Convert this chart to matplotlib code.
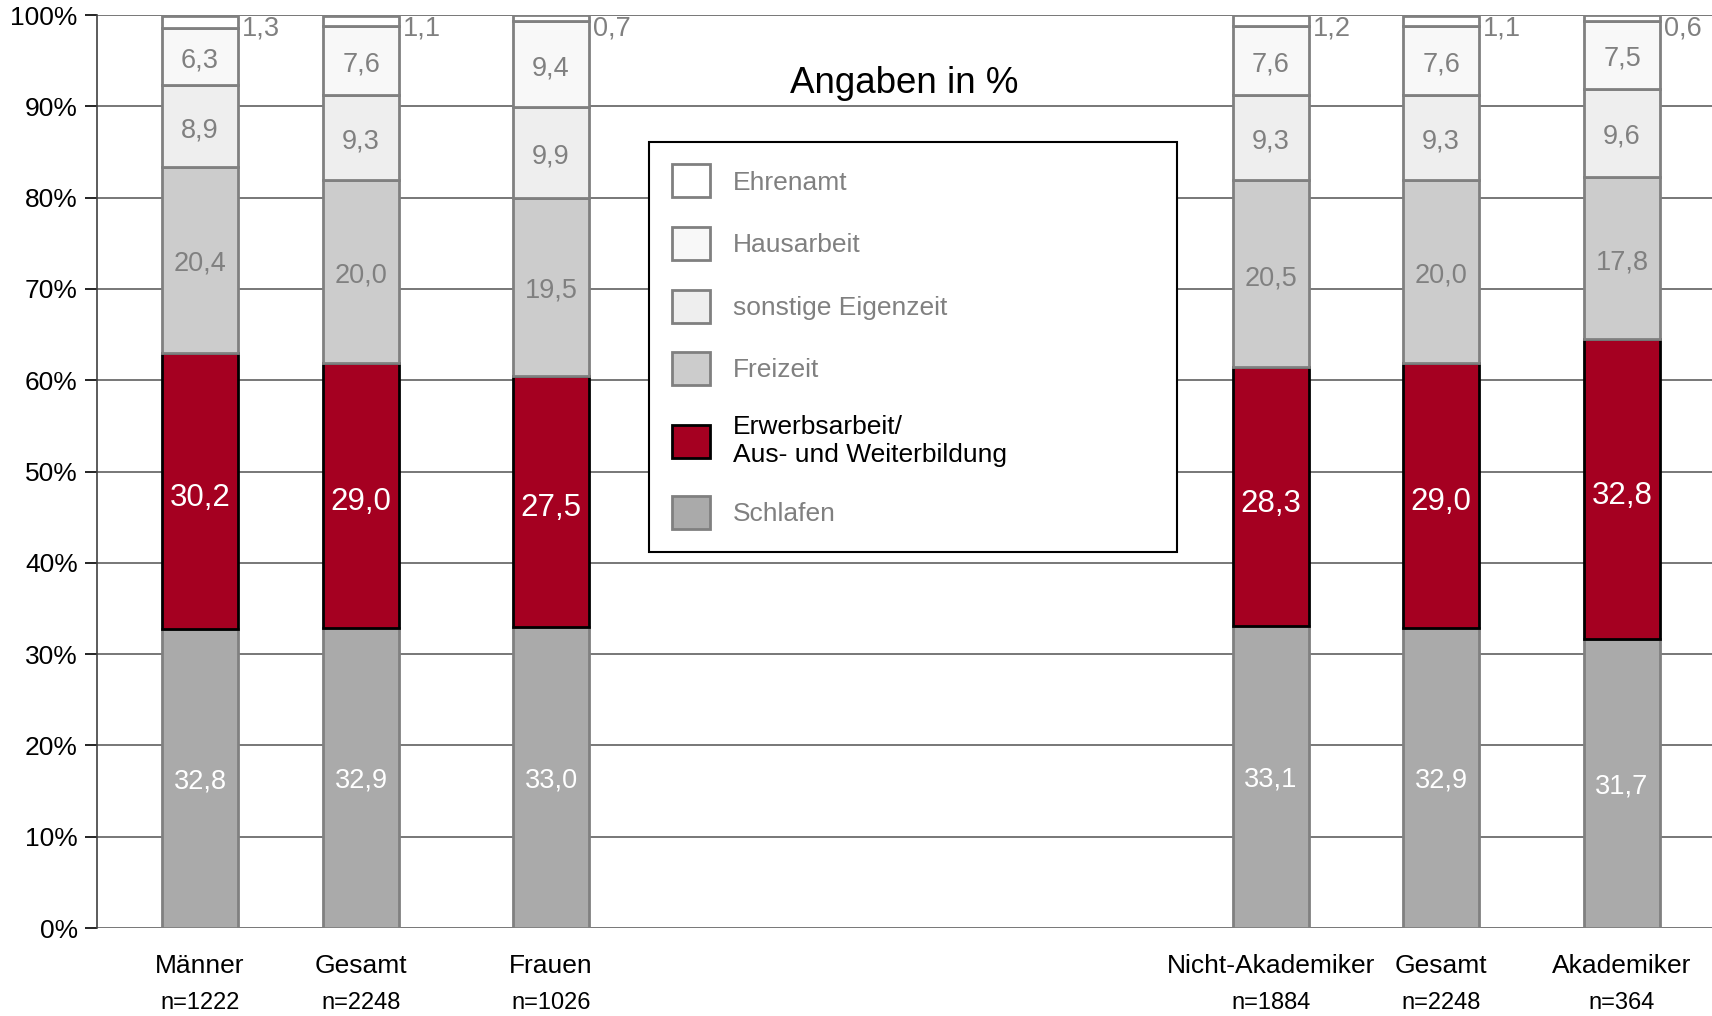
import numpy as np
import matplotlib.pyplot as plt

plt.rcParams['font.family'] = ['Liberation Sans', 'DejaVu Sans']

# data (bottom segment first)
groups = ["Männer", "Gesamt", "Frauen", "Nicht-Akademiker", "Gesamt", "Akademiker"]
sizes = ["n=1222", "n=2248", "n=1026", "n=1884", "n=2248", "n=364"]

schlafen = [32.8, 32.9, 33.0, 33.1, 32.9, 31.7]
erwerb = [30.2, 29.0, 27.5, 28.3, 29.0, 32.8]
freizeit = [20.4, 20.0, 19.5, 20.5, 20.0, 17.8]
eigenzeit = [8.9, 9.3, 9.9, 9.3, 9.3, 9.6]
hausarbeit = [6.3, 7.6, 9.4, 7.6, 7.6, 7.5]
ehrenamt = [1.3, 1.1, 0.7, 1.2, 1.1, 0.6]

series_names = ["Schlafen", "Erwerbsarbeit/\nAus- und Weiterbildung", "Freizeit",
                "sonstige Eigenzeit", "Hausarbeit", "Ehrenamt"]
series_values = [schlafen, erwerb, freizeit, eigenzeit, hausarbeit, ehrenamt]

# styles
face = ["#aaaaaa", "#a50021", "#cccccc", "#eeeeee", "#f8f8f8", "#ffffff"]
edge = ["#808080", "#000000", "#808080", "#808080", "#808080", "#808080"]
txt_col = ["white", "white", "#808080", "#808080", "#808080", "#808080"]
txt_size = [19.5, 22.5, 19.5, 19.5, 19.5, 19.5]
txt_shift = [-2, -5, -3, -3, -3, 0]

# bar centres, two blocks with a gap between them
xpos = np.array([0.572, 1.467, 2.522, 6.522, 7.467, 8.472])
width = 0.422


def fmt(v):
    """German decimal comma"""
    return f"{v:.1f}".replace(".", ",")


fig = plt.figure(figsize=(17.12, 10.16), dpi=100)
ax = fig.add_axes([0.0567, 0.0866, 0.9433, 0.8986])

bottom = np.zeros(len(groups))
handles = []
for i, vals in enumerate(series_values):
    vals = np.array(vals)
    bars = ax.bar(xpos, vals, width, bottom=bottom, color=face[i], edgecolor=edge[i],
                  linewidth=2, label=series_names[i], zorder=3)
    handles.append(bars)
    if i < 5:
        for x, b, v in zip(xpos, bottom, vals):
            ax.annotate(fmt(v), (x, b + v / 2), xytext=(0, txt_shift[i]),
                        textcoords="offset points", ha="center", va="center",
                        color=txt_col[i], fontsize=txt_size[i], zorder=4)
    else:
        # Ehrenamt is too thin, label goes to the right of the bar
        for x, b, v in zip(xpos, bottom, vals):
            ax.text(x + width / 2 + 0.02, 98.5, fmt(v), ha="left", va="center",
                    color="#808080", fontsize=19.5, zorder=4)
    bottom = bottom + vals

ax.set_xlim(0, 8.972)
ax.set_ylim(0, 100)
ax.set_yticks(np.arange(0, 101, 10))
ax.set_yticklabels([f"{t}%" for t in range(0, 101, 10)], fontsize=19)
ax.tick_params(axis="y", direction="out", length=9, width=1.2, pad=5)
ax.set_xticks([])
ax.yaxis.grid(True, color="#606060", linewidth=1.2, zorder=0)
for s in ["top", "right", "bottom"]:
    ax.spines[s].set_visible(False)
ax.spines["left"].set_linewidth(1.2)
ax.spines["left"].set_color("#404040")

for x, g, n in zip(xpos, groups, sizes):
    ax.text(x, -0.0416, g, transform=ax.get_xaxis_transform(), ha="center", va="center",
            fontsize=19)
    ax.text(x, -0.082, n, transform=ax.get_xaxis_transform(), ha="center", va="center",
            fontsize=17)

ax.text(0.5, 0.925, "Angaben in %", transform=ax.transAxes, ha="center", va="center",
        fontsize=26.5)

leg = ax.legend(handles[::-1], series_names[::-1], loc="upper left",
                bbox_to_anchor=(0.342, 0.413, 0.327, 0.448), mode="expand",
                fontsize=19, frameon=True, fancybox=False, edgecolor="black",
                framealpha=1, handlelength=1.45, handleheight=1.55, handletextpad=0.85,
                labelspacing=1.12, borderpad=0.85, borderaxespad=0)
leg.get_frame().set_linewidth(1.5)
leg.set_zorder(5)
for t in leg.get_texts():
    t.set_color("#808080")
leg.get_texts()[4].set_color("black")

fig.savefig("out.png", dpi=100)
